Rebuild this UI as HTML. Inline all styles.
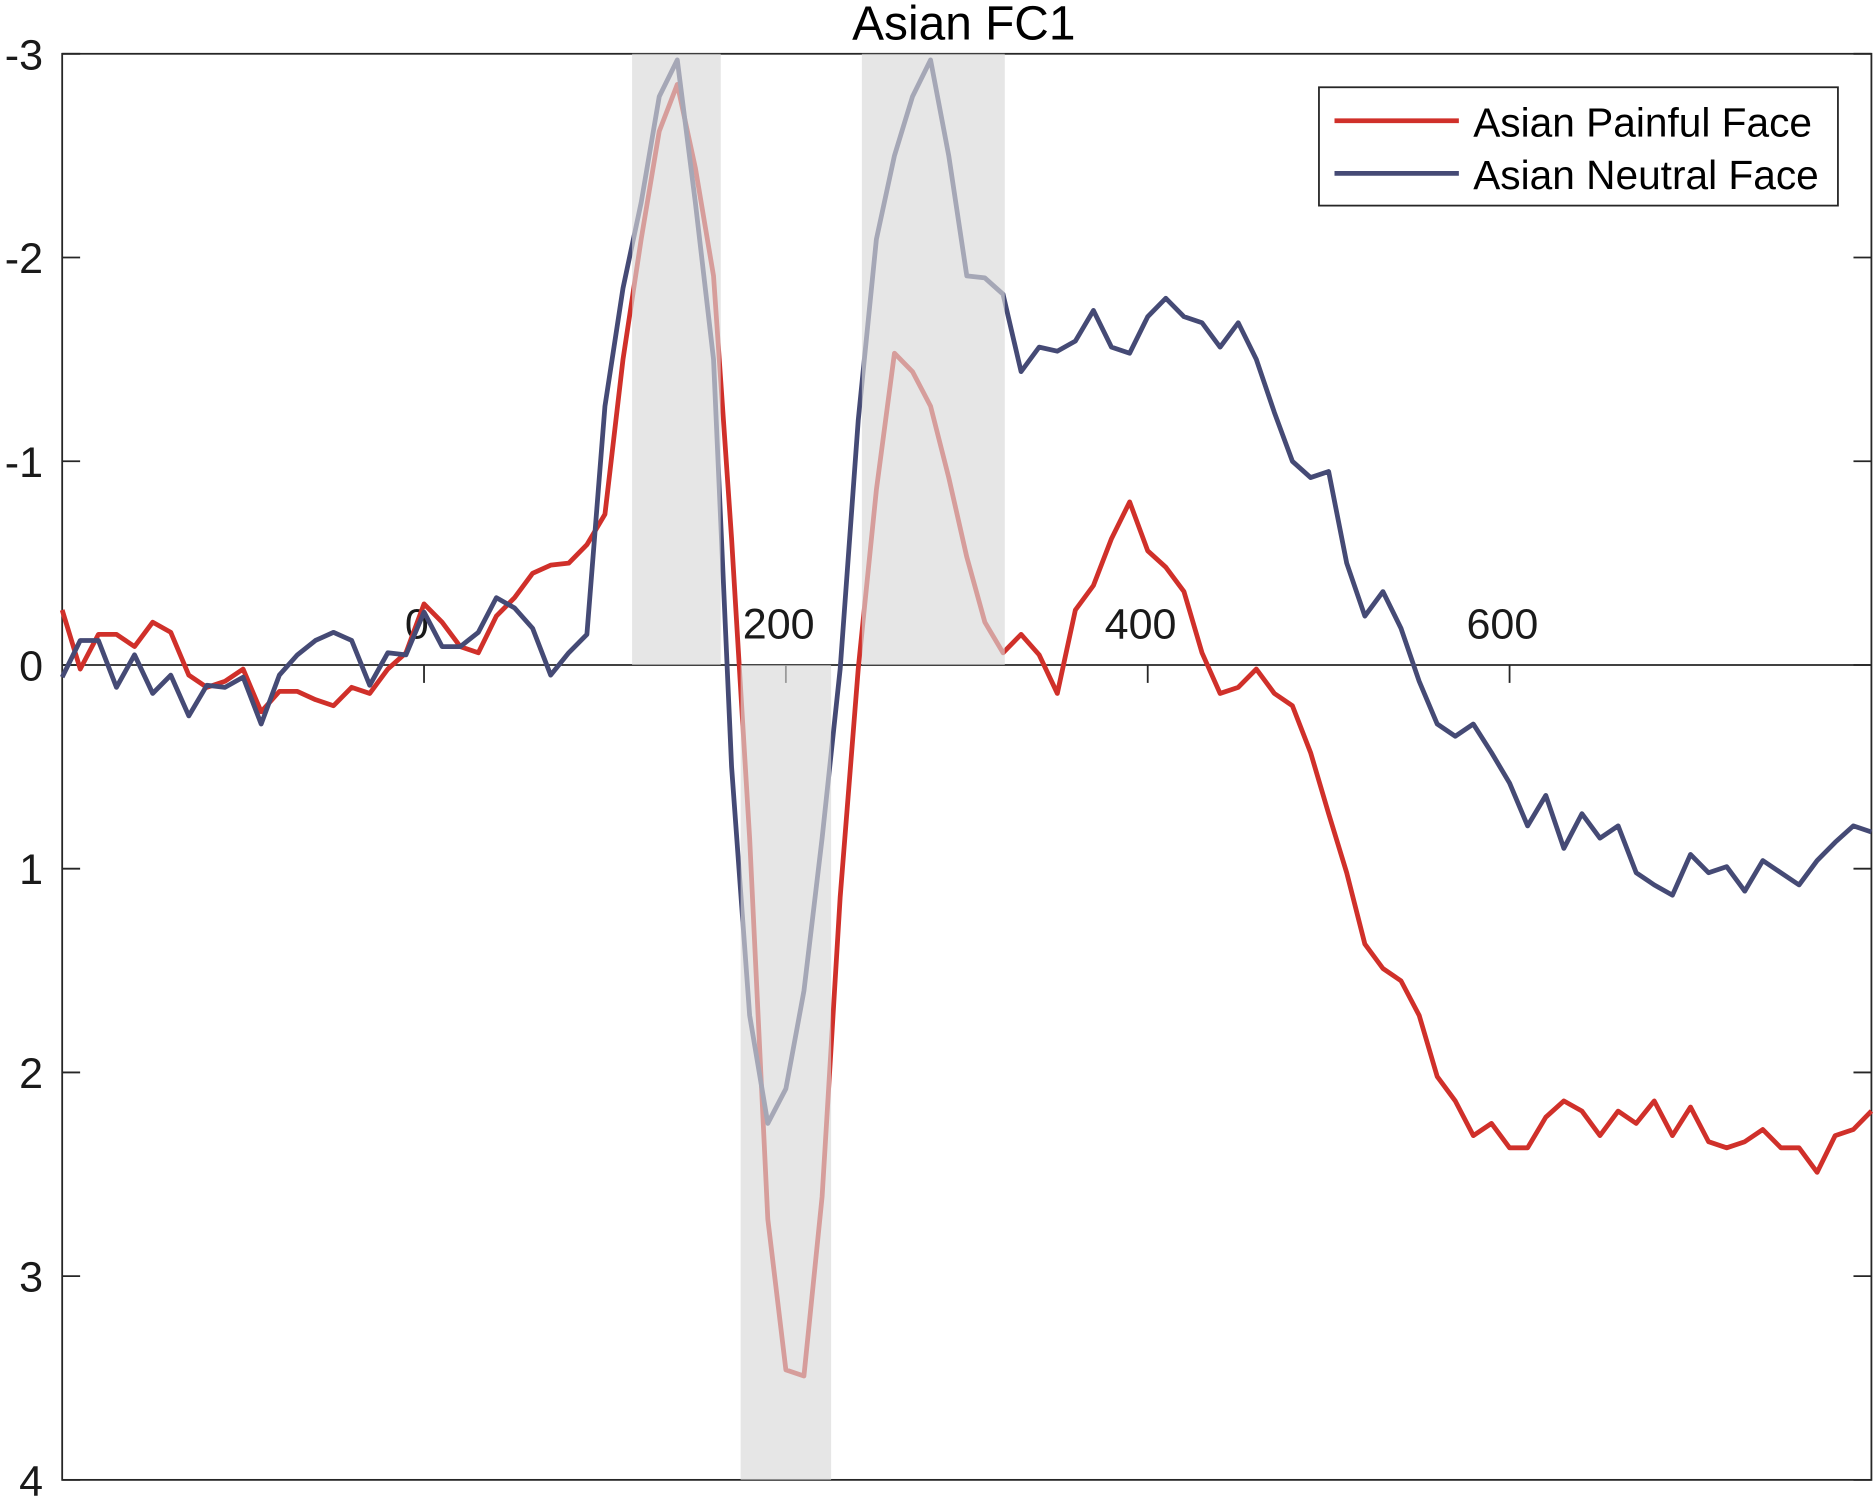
<!DOCTYPE html>
<html><head><meta charset="utf-8"><style>
html,body{margin:0;padding:0;background:#fff;}
svg{display:block;font-family:"Liberation Sans",sans-serif;}
</style></head><body>
<svg id="chart" width="1875" height="1499" viewBox="0 0 1568 1254" preserveAspectRatio="none" xmlns="http://www.w3.org/2000/svg"></svg>
<script>
const times=[-200,-190,-180,-170,-160,-150,-140,-130,-120,-110,-100,-90,-80,-70,-60,-50,-40,-30,-20,-10,0,10,20,30,40,50,60,70,80,90,100,110,120,130,140,150,160,170,180,190,200,210,220,230,240,250,260,270,280,290,300,310,320,330,340,350,360,370,380,390,400,410,420,430,440,450,460,470,480,490,500,510,520,530,540,550,560,570,580,590,600,610,620,630,640,650,660,670,680,690,700,710,720,730,740,750,760,770,780,790,800];
const neutral=[0.06,-0.12,-0.12,0.11,-0.05,0.14,0.05,0.25,0.1,0.11,0.06,0.29,0.05,-0.05,-0.12,-0.16,-0.12,0.1,-0.06,-0.05,-0.26,-0.09,-0.09,-0.16,-0.33,-0.28,-0.18,0.05,-0.06,-0.15,-1.27,-1.85,-2.27,-2.79,-2.97,-2.27,-1.5,0.5,1.72,2.25,2.08,1.6,0.85,0.02,-1.2,-2.09,-2.5,-2.79,-2.97,-2.5,-1.91,-1.9,-1.82,-1.44,-1.56,-1.54,-1.59,-1.74,-1.56,-1.53,-1.71,-1.8,-1.71,-1.68,-1.56,-1.68,-1.5,-1.24,-1.0,-0.92,-0.95,-0.5,-0.24,-0.36,-0.18,0.08,0.29,0.35,0.29,0.43,0.58,0.79,0.64,0.9,0.73,0.85,0.79,1.02,1.08,1.13,0.93,1.02,0.99,1.11,0.96,1.02,1.08,0.96,0.87,0.79,0.82];
const painful=[-0.27,0.02,-0.15,-0.15,-0.09,-0.21,-0.16,0.05,0.11,0.08,0.02,0.23,0.13,0.13,0.17,0.2,0.11,0.14,0.02,-0.06,-0.3,-0.21,-0.09,-0.06,-0.24,-0.33,-0.45,-0.49,-0.5,-0.59,-0.74,-1.5,-2.09,-2.62,-2.85,-2.44,-1.91,-0.62,0.85,2.72,3.46,3.49,2.61,1.14,0.02,-0.86,-1.53,-1.44,-1.27,-0.92,-0.53,-0.21,-0.06,-0.15,-0.05,0.14,-0.27,-0.39,-0.62,-0.8,-0.56,-0.48,-0.36,-0.06,0.14,0.11,0.02,0.14,0.2,0.43,0.73,1.02,1.37,1.49,1.55,1.72,2.02,2.14,2.31,2.25,2.37,2.37,2.22,2.14,2.19,2.31,2.19,2.25,2.14,2.31,2.17,2.34,2.37,2.34,2.28,2.37,2.37,2.49,2.31,2.28,2.19];
const yTicks=[-3,-2,-1,0,1,2,3,4];
const xTicks=[0,200,400,600];
const shadeStart=[115,175,242];
const shadeEnd=[164,225,321];
const shadeLo=[-3,0,-3];
const shadeHi=[0,4,0];

const L=52,R=1565,T=45,B=1238;
const X=t=>L+(t+200)/1000*(R-L);
const Y=v=>T+(v+3)/7*(B-T);
const NS="http://www.w3.org/2000/svg";
const svg=document.getElementById('chart');
function mk(tag,attrs,parent){const e=document.createElementNS(NS,tag);for(const k in attrs)e.setAttribute(k,attrs[k]);(parent||svg).appendChild(e);return e;}

const frame=mk('rect',{x:L,y:T,width:R-L,height:B-T,fill:'none',stroke:'#262626','stroke-width':1.5});



const xa=mk('line',{x1:L,x2:R,y1:Y(0),y2:Y(0),stroke:'#262626','stroke-width':1.5});



yTicks.forEach(v=>{
  const g=mk('g',{});
  
  
  mk('line',{x1:L,x2:L+15,y1:Y(v),y2:Y(v),stroke:'#262626','stroke-width':1.5},g);
  mk('line',{x1:R-15,x2:R,y1:Y(v),y2:Y(v),stroke:'#262626','stroke-width':1.5},g);
  const t=mk('text',{x:36,y:Y(v)+13,'text-anchor':'end','font-size':36,fill:'#1a1a1a'},g);
  t.textContent=String(v);
});
xTicks.forEach(v=>{
  const g=mk('g',{});
  
  
  mk('line',{x1:X(v),x2:X(v),y1:Y(0),y2:Y(0)+15,stroke:'#262626','stroke-width':1.5},g);
  const t=mk('text',{x:X(v)-6,y:Y(0)-22,'text-anchor':'middle','font-size':36,fill:'#1a1a1a'},g);
  t.textContent=String(v);
});

function series(vals,color,name){
  const d=vals.map((v,i)=>(i?'L':'M')+X(times[i]).toFixed(1)+','+Y(v).toFixed(1)).join('');
  const p=mk('path',{d:d,fill:'none',stroke:color,'stroke-width':4,'stroke-linejoin':'round'});
  
  
}
series(painful,'#d0302a','painful-face-line');
series(neutral,'#454a75','neutral-face-line');

shadeStart.forEach((s,i)=>{
  const r=mk('rect',{x:X(s),y:Y(shadeLo[i]),width:X(shadeEnd[i])-X(s),height:Y(shadeHi[i])-Y(shadeLo[i]),fill:'#d9d9d9','fill-opacity':0.65});
  
  
});

const title=mk('text',{x:806,y:33,'text-anchor':'middle','font-size':40,fill:'#000'});
title.textContent='Asian FC1';



const lg=mk('g',{});


mk('rect',{x:1103,y:73,width:434,height:99,fill:'#fff',stroke:'#262626','stroke-width':1.5},lg);
const e1=mk('g',{},lg);


mk('line',{x1:1116,x2:1220,y1:101,y2:101,stroke:'#d0302a','stroke-width':4},e1);
const t1=mk('text',{x:1232,y:114,'font-size':34,fill:'#000'},e1);t1.textContent='Asian Painful Face';
const e2=mk('g',{},lg);


mk('line',{x1:1116,x2:1220,y1:145,y2:145,stroke:'#454a75','stroke-width':4},e2);
const t2=mk('text',{x:1232,y:158,'font-size':34,fill:'#000'},e2);t2.textContent='Asian Neutral Face';
</script>
</body></html>
